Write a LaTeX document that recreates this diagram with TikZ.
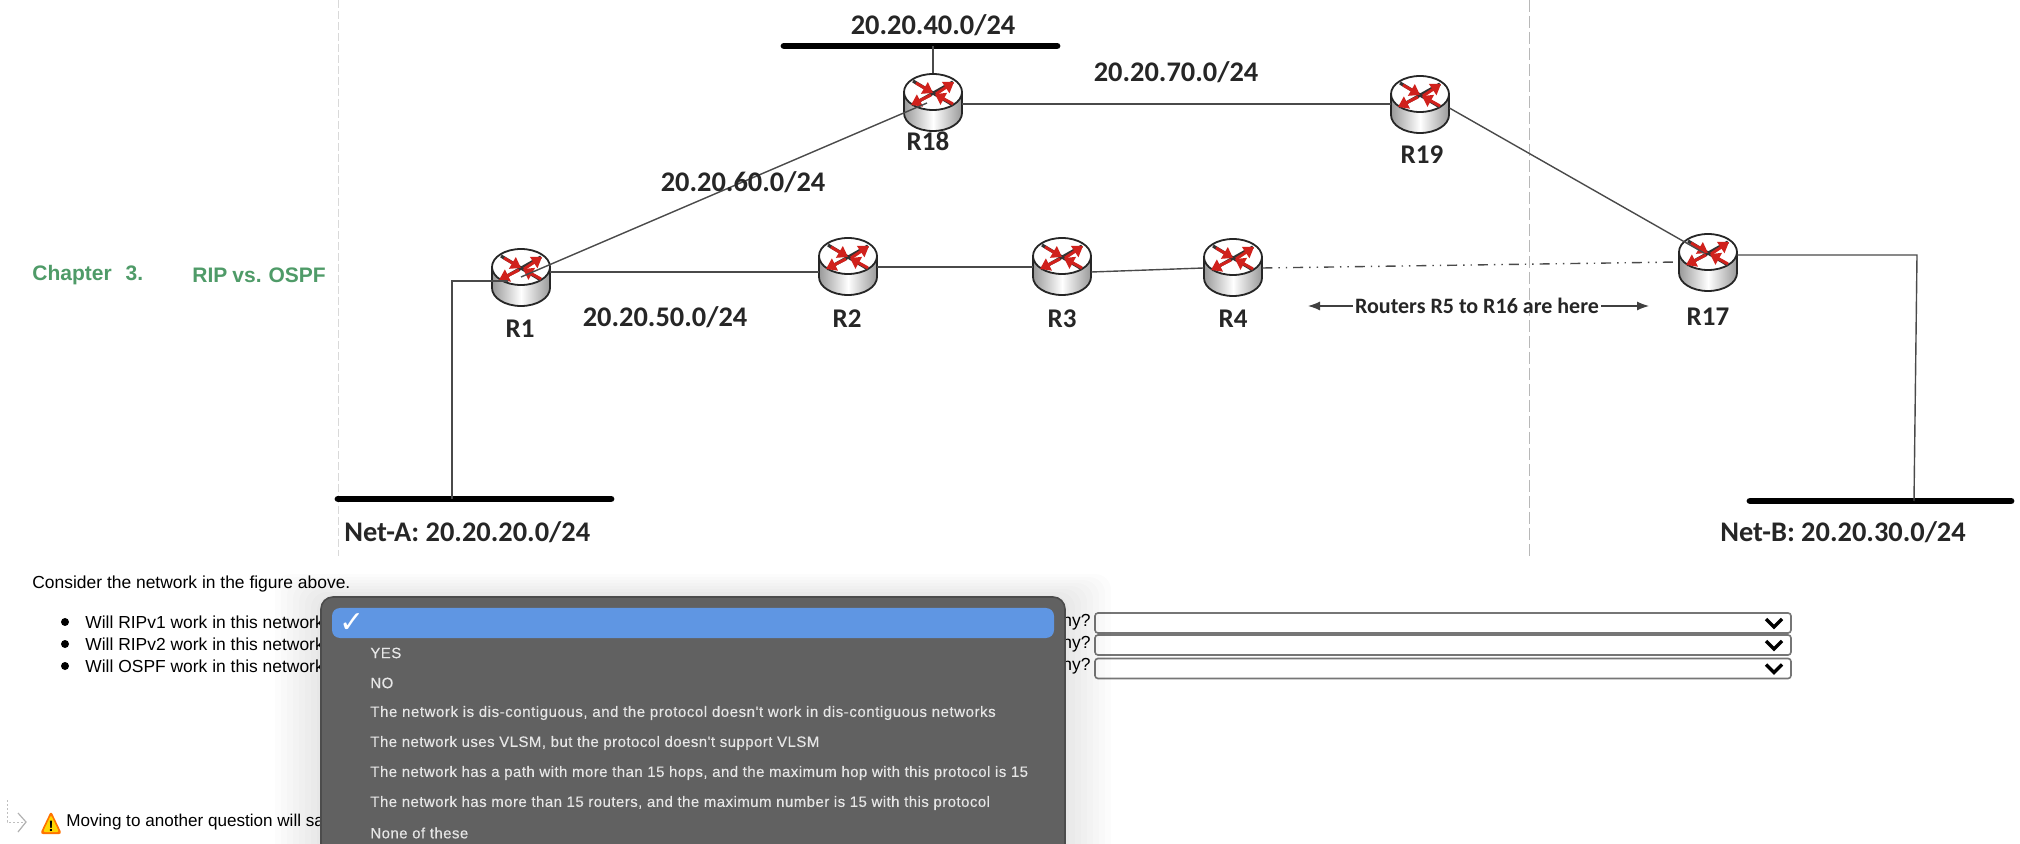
\documentclass[tikz,border=0pt]{standalone}
\usepackage{fontspec}
\setmainfont{Liberation Sans}
\newfontfamily\carl{Carlito}
\newfontfamily\popfont[LetterSpace=3,FakeBold=0.25]{Liberation Sans}
\newfontfamily\popwide[LetterSpace=3.75,FakeBold=0.25]{Liberation Sans}
\newfontfamily\dejav{DejaVu Sans}
\usetikzlibrary{arrows.meta}
\definecolor{linegray}{HTML}{4A4A4A}
\definecolor{chapgreen}{HTML}{4F9B68}
\definecolor{popgray}{HTML}{616161}
\definecolor{popblue}{HTML}{5F96E3}
\definecolor{poptext}{HTML}{E6E6E6}
\definecolor{boxgray}{HTML}{767676}
\definecolor{arrred}{HTML}{D0211C}
\tikzset{
  rnode/.style={inner sep=0pt,minimum width=29pt,minimum height=28.5pt},
  lbl/.style={font=\carl\bfseries\fontsize{14.2}{16}\selectfont,text=black!85,inner sep=0pt},
  rlbl/.style={font=\carl\bfseries\fontsize{13.5}{15}\selectfont,text=black!85,inner sep=0pt},
  link/.style={draw=linegray,line width=0.7pt},
  netbar/.style={draw=black,line width=3.4pt,line cap=round},
  guide/.style={line width=0.5pt},
  body/.style={font=\fontsize{8.72}{10}\selectfont,text=black,inner sep=0pt},
  chap/.style={font=\bfseries\fontsize{10.5}{12}\selectfont,text=chapgreen,inner sep=0pt},
  item/.style={font=\popfont\fontsize{7.5}{9}\selectfont,text=poptext,inner sep=0pt,anchor=west},
  selbox/.style={draw=boxgray,line width=0.8pt,fill=white,rounded corners=1.5pt},
  chev/.style={draw=black,line width=1.7pt},
  routerart/.pic={
    \fill[left color=black!40,right color=black!40,middle color=white]
      (-29,-10) -- (-29,11) arc[start angle=180,end angle=0,x radius=29,y radius=18] -- (29,-10) -- cycle;
    \draw[black!85,line width=0.9pt] (-29,-10) -- (-29,11) arc[start angle=180,end angle=0,x radius=29,y radius=18] -- (29,-10);
    \draw[black!85,fill=white,line width=0.9pt] (0,-10) ellipse[x radius=29,y radius=18];
    \draw[black!80,line width=1.6pt] (-20,-21) -- (20,3) (20,-20) -- (-21,3);
    \draw[arrred,line width=1.5pt,-{Triangle[width=6.5pt,length=5pt]}] (-17,-19) -- (0,-9);
    \draw[arrred,line width=1.5pt,-{Triangle[width=6.5pt,length=5pt]}] (3,-8) -- (21,-20);
    \draw[arrred,line width=1.5pt,-{Triangle[width=6.5pt,length=5pt]}] (-2,-7) -- (-22,3);
    \draw[arrred,line width=1.5pt,-{Triangle[width=6.5pt,length=5pt]}] (20,2) -- (2,-8);
  }
}
\begin{document}
\begin{tikzpicture}[x=0.5pt,y=-0.5pt]
\useasboundingbox (0,0) rectangle (2020,844);
\clip (0,0) rectangle (2020,844);
\fill[white] (0,0) rectangle (2020,844);

% guide lines
\coordinate (gla) at (338,0); \coordinate (glb) at (338,556);
\coordinate (gra) at (1529,0); \coordinate (grb) at (1529,556);
\draw[guide,black!15,dash pattern=on 4pt off 1.5pt] (gla) -- (glb);
\draw[guide,black!28,dash pattern=on 6pt off 2pt] (gra) -- (grb);

% network bars
\coordinate (barAl) at (338,499); \coordinate (barAr) at (611,499);
\coordinate (barBl) at (1750,501); \coordinate (barBr) at (2011,501);
\coordinate (barCl) at (784,46); \coordinate (barCr) at (1057,46);
\coordinate (tapA) at (452,499); \coordinate (tapB) at (1914,501); \coordinate (tapC) at (933,46);
\coordinate (elbowB) at (1917,255);
\draw[netbar] (barAl) -- (barAr);
\draw[netbar] (barBl) -- (barBr);
\draw[netbar] (barCl) -- (barCr);

% routers
\node[rnode] (R1) at (521,277) {};
\node[rnode] (R2) at (848,266) {};
\node[rnode] (R3) at (1062,266) {};
\node[rnode] (R4) at (1233,267) {};
\node[rnode] (R17) at (1708,262) {};
\node[rnode] (R18) at (933,102) {};
\node[rnode] (R19) at (1420,104) {};

\pic at (R1) {routerart};
\pic at (R2) {routerart};
\pic at (R3) {routerart};
\pic at (R4) {routerart};
\pic at (R17) {routerart};
\pic at (R18) {routerart};
\pic at (R19) {routerart};

% connectors
\draw[link] (tapC) -- (R18.north);
\draw[link] (tapA) |- ([shift={(-13,4)}]R1.center);
\draw[link] ([shift={(0,-7)}]R17.east) -- (elbowB) -- (tapB);
\draw[link] ([shift={(0,-5)}]R1.east) -- ([shift={(0,6)}]R2.west);
\draw[link] ([shift={(0,1)}]R2.east) -- ([shift={(0,1)}]R3.west);
\draw[link] ([shift={(0,6)}]R3.east) -- ([shift={(0,1)}]R4.west);
\draw[link] ([shift={(0,2)}]R18.east) -- (R19.west);
\draw[link] ([shift={(0,4)}]R19.east) -- ([shift={(-4,-9)}]R17.center);
\draw[linegray,line width=0.7pt,dash pattern=on 5pt off 3pt on 0.7pt off 3pt on 0.7pt off 3pt]
  ([shift={(0,1)}]R4.east) -- (R17.west);
\draw[link] (R1.center) -- ([shift={(-6,1)}]R18.center);

% labels on the figure
\node[rlbl] (lR1) at (520,329) {R1};
\node[rlbl] (lR2) at (847,319) {R2};
\node[rlbl] (lR3) at (1062,319) {R3};
\node[rlbl] (lR4) at (1233,319) {R4};
\node[rlbl] (lR17) at (1708,317) {R17};
\node[rlbl] (lR18) at (928,141) {R18};
\node[rlbl] (lR19) at (1422,155) {R19};
\node[lbl] (n40) at (933,25) {20.20.40.0/24};
\node[lbl] (n70) at (1176,72) {20.20.70.0/24};
\node[lbl] (n60) at (743,182) {20.20.60.0/24};
\node[lbl] (n50) at (665,317) {20.20.50.0/24};
\node[lbl,anchor=west] (netA) at (344,532) {Net-A: 20.20.20.0/24};
\node[lbl,anchor=west] (netB) at (1720,532) {Net-B: 20.20.30.0/24};
\node[font=\carl\bfseries\fontsize{11}{13}\selectfont,text=black!85,inner sep=1pt] (here) at (1477,306) {Routers R5 to R16 are here};
\coordinate (hereL) at (1308,306);
\coordinate (hereR) at (1649,306);
\draw[black!75,line width=0.6pt,-{Latex[length=6pt,width=4.5pt]}] (here.west) -- (hereL);
\draw[black!75,line width=0.6pt,-{Latex[length=6pt,width=4.5pt]}] (here.east) -- (hereR);

% heading
\node[chap,anchor=west] (chapA) at (32,275) {Chapter\hspace{.66em}3.};
\node[chap,anchor=west] (chapB) at (192,275) {\spaceskip=.24em RIP vs. OSPF};

% question text
\node[body,anchor=west] (intro) at (32,584) {Consider the network in the figure above.};
\foreach \n/\y/\t in {a/622/Will RIPv1 work in this network,b/644/Will RIPv2 work in this network,c/666/Will OSPF work in this network}{
  \fill[black] (65,\y) circle[radius=4];
  \node[body,anchor=west] (q\n) at (85,\y) {\t};
}
\foreach \n/\y in {a/622,b/644,c/666}{
  \node[body,anchor=east] (why\n) at (1091,\y) {Why?};
}
\node[selbox,minimum width=348pt,minimum height=10pt,inner sep=0pt] (sa) at (1443,623) {};
\node[selbox,minimum width=348pt,minimum height=10pt,inner sep=0pt] (sb) at (1443,645) {};
\node[selbox,minimum width=348pt,minimum height=10pt,inner sep=0pt] (sc) at (1443,668.5) {};
\foreach \y in {623,645,668.5}{
  \draw[chev] (1766,\y-4) -- (1774,\y+4) -- (1782,\y-4);
}

% bottom note
\draw[black!25,line width=0.5pt,dash pattern=on 1pt off 1pt] (7,800) -- (7,822) -- (24,822);
\draw[black!30,line width=0.6pt] (18,813) -- (26,822) -- (18,832);
\fill[orange!90!red,rounded corners=1.5pt] (51,811) -- (62,834) -- (40,834) -- cycle;
\fill[yellow!75!orange,rounded corners=1pt] (51,815) -- (59,832) -- (43,832) -- cycle;
\node[font=\bfseries\fontsize{7.5}{8}\selectfont,inner sep=0pt] (warn) at (51,826) {!};
\node[body,anchor=west,font=\fontsize{8.55}{10}\selectfont] (moving) at (66,822) {Moving to another question will save};

% popup menu
\foreach \g in {46,40,...,4}{
  \fill[black,opacity=0.012,rounded corners=8pt] (321-\g,597-\g/2) rectangle (1065+\g,900);
}
\draw[black!70,fill=popgray,line width=0.8pt,rounded corners=6pt] (321,597) rectangle (1065,900);
\fill[popblue,rounded corners=4pt] (332,608) rectangle (1054,638);
\node[font=\dejav\fontsize{15}{16}\selectfont,text=white,inner sep=0pt] (tick) at (352,623) {✓};
\node[item] (i1) at (370,653) {YES};
\node[item] (i2) at (370,683) {NO};
\node[item,font=\popwide\fontsize{7.5}{9}\selectfont] (i3) at (370,713) {The network is dis-contiguous, and the protocol doesn't work in dis-contiguous networks};
\node[item] (i4) at (370,743) {The network uses VLSM, but the protocol doesn't support VLSM};
\node[item] (i5) at (370,773) {The network has a path with more than 15 hops, and the maximum hop with this protocol is 15};
\node[item] (i6) at (370,803) {The network has more than 15 routers, and the maximum number is 15 with this protocol};
\node[item] (i7) at (370,833) {None of these};
\end{tikzpicture}
\end{document}
